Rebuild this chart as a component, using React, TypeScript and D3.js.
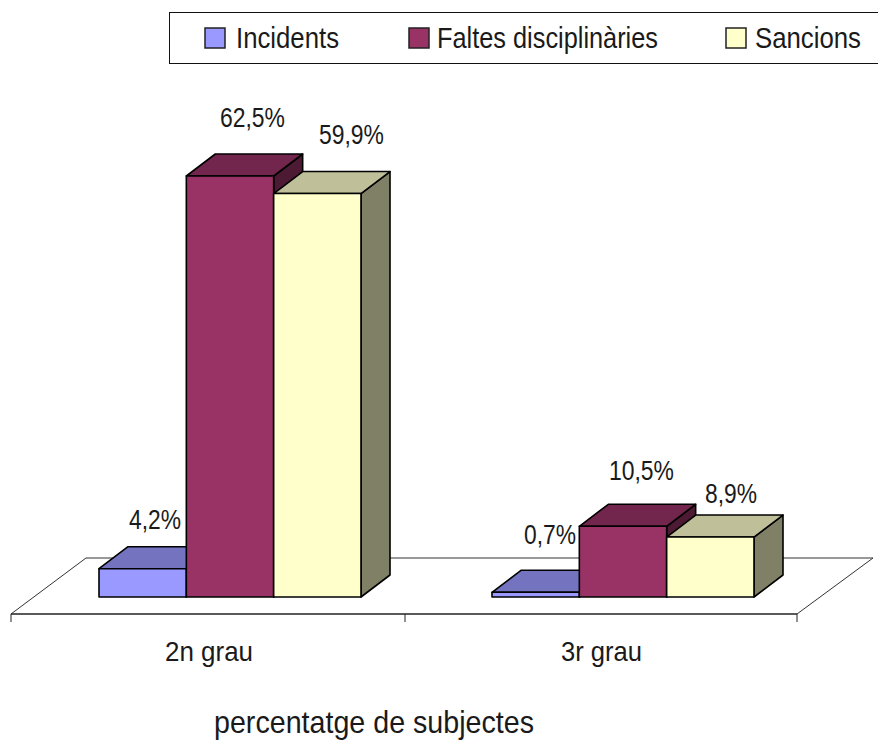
import React from 'react';
import * as d3 from 'd3';

const categories = ['2n grau', '3r grau'];
const seriesNames = ['Incidents', 'Faltes disciplinàries', 'Sancions'];
const incidents = [4.2, 0.7];
const faltes = [62.5, 10.5];
const sancions = [59.9, 8.9];
const valueLabels = [['4,2%', '0,7%'], ['62,5%', '10,5%'], ['59,9%', '8,9%']];
const seriesValues = [incidents, faltes, sancions];
const front = ['#9999ff', '#993366', '#ffffcc'];
const top = ['#7373bf', '#73264d', '#bfbf99'];
const side = ['#5c5c99', '#4d1a33', '#808066'];

const DX = 29, DY = 22;
const x0 = d3.scaleBand<string>().domain(categories).range([11, 797]);
const inner = d3.scaleBand<string>().domain(seriesNames).range([88, 350]);
const y = d3.scaleLinear().domain([0, 62.5]).range([597, 176]);
const FONT = '"Liberation Sans", Arial, sans-serif';

function T({ x, y, w, size = 28, children }: any) {
  return (
    <text x={x} y={y} fontFamily={FONT} fontSize={size} fill="#1a1a1a" textAnchor="start"
      textLength={w} lengthAdjust="spacingAndGlyphs">{children}</text>
  );
}

const pts = (p: number[][]) => p.map(a => a.join(',')).join(' ');

const labelPos = [[[129, 529, 52], [524, 544, 52]], [[220, 127, 65], [609, 480, 65]], [[319, 144, 65], [705, 503, 52]]];
const legendX = [205, 409, 726];
const legendTextX = [236, 437, 755];
const legendW = [103, 221, 106];

export default function App() {
  const stroke = { stroke: '#000', strokeWidth: 1.6, strokeLinejoin: 'round' as const };
  return (
    <svg width={878} height={740} style={{ position: 'absolute', left: 0, top: 0, background: '#fff' }}>
      {/* floor */}
      <path d="M11,614 L86,558 L873,558 L797,614" fill="none" stroke="#333" strokeWidth={1} />
      <line x1={11} x2={797} y1={614} y2={614} stroke="#222" strokeWidth={1.4} />
      {[11, 405, 797].map(t => <line key={t} x1={t} x2={t} y1={614} y2={622} stroke="#222" strokeWidth={1} />)}
      {categories.map(c => (
        <T key={c} x={x0(c)! + (c === categories[0] ? 154 : 157)} y={661} w={c === categories[0] ? 88 : 81}>{c}</T>
      ))}
      {/* bars */}
      {categories.map((c, ci) => (
        <g key={c}>
          {seriesNames.map((s, si) => {
            const xl = x0(c)! + inner(s)!;
            const xr = xl + inner.bandwidth();
            const yt = y(seriesValues[si][ci]);
            const yb = y(0);
            return (
              <g key={s} {...stroke}>
                <polygon points={pts([[xr, yt], [xr + DX, yt - DY], [xr + DX, yb - DY], [xr, yb]])} fill={side[si]} />
                <polygon points={pts([[xl, yt], [xl + DX, yt - DY], [xr + DX, yt - DY], [xr, yt]])} fill={top[si]} />
                <rect x={xl} y={yt} width={xr - xl} height={yb - yt} fill={front[si]} />
              </g>
            );
          })}
        </g>
      ))}
      {/* value labels */}
      {valueLabels.map((row, si) => row.map((l, ci) => {
        const [lx, ly, w] = labelPos[si][ci];
        return <T key={l} x={lx} y={ly} w={w} size={27}>{l}</T>;
      }))}
      {/* legend */}
      <rect x={169.5} y={12.5} width={720} height={51} fill="#fff" stroke="#111" strokeWidth={1} />
      {seriesNames.map((s, i) => (
        <g key={s}>
          <rect x={legendX[i]} y={28} width={20} height={20} fill={front[i]} stroke="#222" strokeWidth={1.5} />
          <T x={legendTextX[i]} y={47.5} w={legendW[i]} size={29}>{s}</T>
        </g>
      ))}
      <T x={214} y={733} w={320} size={32}>percentatge de subjectes</T>
    </svg>
  );
}
